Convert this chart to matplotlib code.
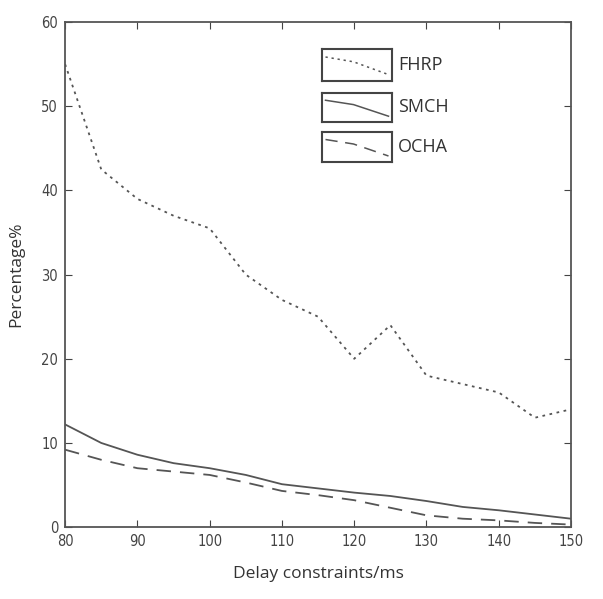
import numpy as np
import matplotlib.pyplot as plt

# Data
delay = [80, 85, 90, 95, 100, 105, 110, 115, 120, 125, 130, 135, 140, 145, 150]
fhrp = [55, 42.5, 39, 37, 35.5, 30, 27, 25, 20, 24, 18, 17, 16, 13, 14]
smch = [12.2, 10, 8.6, 7.6, 7, 6.2, 5.1, 4.6, 4.1, 3.7, 3.1, 2.4, 2, 1.5, 1]
ocha = [9.2, 8, 7, 6.6, 6.2, 5.3, 4.3, 3.8, 3.2, 2.3, 1.4, 1.0, 0.8, 0.5, 0.3]
names = ['FHRP', 'SMCH', 'OCHA']

line_col = '#555555'
styles = [dict(ls=(0, (1.5, 2.5)), lw=1.3),
          dict(ls='-', lw=1.3),
          dict(ls=(0, (8, 5)), lw=1.3)]

plt.rcParams['font.family'] = ['DejaVu Sans']

fig = plt.figure(figsize=(6.03, 5.99), dpi=100)
ax = fig.add_axes([0.108, 0.12, 0.839, 0.843])

for y, st in zip([fhrp, smch, ocha], styles):
    ax.plot(delay, y, color=line_col, **st)

ax.set_xlim(80, 150)
ax.set_ylim(0, 60)
ax.set_xticks(np.arange(80, 151, 10))
ax.set_yticks(np.arange(0, 61, 10))
ax.tick_params(direction='in', top=True, right=True, length=5, labelsize=10.5,
               colors='#444444', pad=5)
# narrow tick digits like the original
for lab in ax.get_xticklabels() + ax.get_yticklabels():
    lab.set_fontstretch('condensed')
for s in ax.spines.values():
    s.set_color('#555555')
    s.set_linewidth(1.3)

lab_font = dict(fontsize=12.5, family=['Open Sans', 'DejaVu Sans'],
                fontstretch='normal', color='#333333')
ax.set_xlabel('Delay constraints/ms', labelpad=12, **lab_font)
ax.set_ylabel('Percentage%', labelpad=12, **lab_font)

# legend boxes, one per series, drawn like the original
box_tops = [49, 93, 132]
box_h = [32, 29, 30]
for name, st, top, h in zip(names, styles, box_tops, box_h):
    bottom = 599 - (top + h)
    iax = fig.add_axes([322 / 603, bottom / 599, 70 / 603, h / 599])
    iax.set_xlim(0, 1)
    iax.set_ylim(0, 1)
    iax.set_xticks([])
    iax.set_yticks([])
    for s in iax.spines.values():
        s.set_color('#444444')
        s.set_linewidth(1.5)
    iax.plot([0.05, 0.45, 0.95], [0.75, 0.6, 0.2], color=line_col, lw=1.1,
             ls=st['ls'])
    fig.text(398 / 603, 1 - (top + h / 2) / 599, name, fontsize=13,
             family=['Open Sans', 'DejaVu Sans'], fontstretch='normal',
             color='#333333', va='center', ha='left')

fig.savefig('out.png', dpi=100, facecolor='white')
